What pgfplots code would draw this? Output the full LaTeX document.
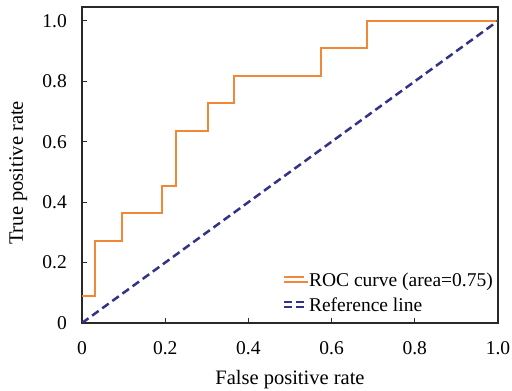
\documentclass[border=0pt]{standalone}
\usepackage{fontspec}
\setmainfont{Liberation Serif}
\usepackage{pgfplots}
\pgfplotsset{compat=1.18}
\definecolor{roc}{RGB}{240,136,56}
\definecolor{refc}{RGB}{50,50,135}
\definecolor{axc}{RGB}{40,40,40}
\begin{document}
\fontsize{19.5}{23}\selectfont
\begin{tikzpicture}
\begin{axis}[
  scale only axis, width=416pt, height=316pt,
  at={(82pt,68pt)}, anchor=south west,
  xmin=0, xmax=1, ymin=0, ymax=1.046,
  xtick={0,0.2,0.4,0.6,0.8,1}, xticklabels={0,0.2,0.4,0.6,0.8,1.0},
  ytick={0,0.2,0.4,0.6,0.8,1}, yticklabels={0,0.2,0.4,0.6,0.8,1.0},
  tick align=inside, major tick length=5pt,
  xtick pos=lower, ytick pos=left,
  axis line style={draw=axc, line width=1.2pt},
  tick style={draw=axc, line width=1.2pt},
  /pgf/number format/assume math mode=true,
  tick label style={font=\fontsize{19.5}{23}\selectfont, text=black},
  xticklabel style={anchor=base, yshift=-32pt},
  yticklabel style={anchor=east, inner sep=0pt, xshift=-15pt},
  xlabel={False positive rate}, ylabel={True positive rate},
  label style={font=\fontsize{20.5}{24}\selectfont},
  xlabel style={at={(axis description cs:0.5,-0.196)}, anchor=base},
  ylabel style={at={(axis description cs:-0.142,0.475)}, anchor=base, rotate=0},
  legend style={draw=none, fill=none, at={(1,0)}, anchor=south east,
    xshift=-5pt, yshift=7pt, inner sep=0pt, row sep=7pt, column sep=0pt,
    font=\fontsize{19.5}{23}\selectfont,
    nodes={inner sep=0pt, text height=14pt, text depth=4pt}},
  legend cell align=left,
  legend image code/.code={\draw[#1] (0pt,5pt) -- (20pt,5pt); \path (0,0) -- (24pt,0);},
]
\addplot[roc, line width=2pt] coordinates {
  (0,0.0909) (0.031,0.0909) (0.031,0.2727) (0.095,0.2727) (0.095,0.3636)
  (0.193,0.3636) (0.193,0.4545) (0.226,0.4545) (0.226,0.6364) (0.302,0.6364)
  (0.302,0.7273) (0.366,0.7273) (0.366,0.8182) (0.574,0.8182) (0.574,0.9091)
  (0.686,0.9091) (0.686,1) (1,1)};
\addlegendentry{ROC curve (area=0.75)}
\addplot[refc, line width=2.5pt, dash pattern=on 8pt off 4.5pt] coordinates {(0,0) (1,1)};
\addlegendentry{Reference line}
\end{axis}
\pgfresetboundingbox
\path[use as bounding box] (0,0) rectangle (512pt,391pt);
\end{tikzpicture}
\end{document}
